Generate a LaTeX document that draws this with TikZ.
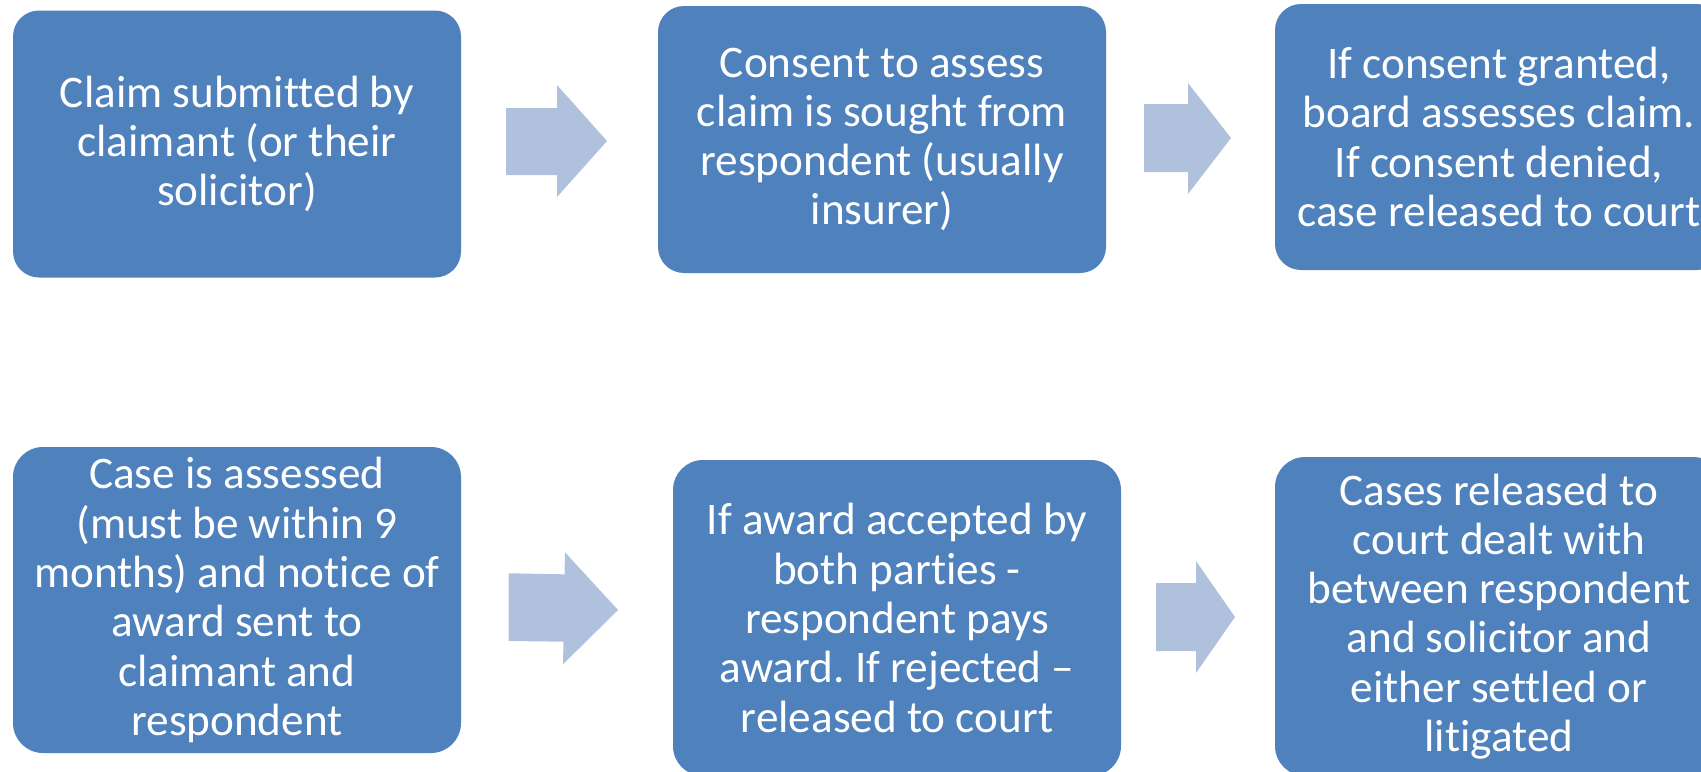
\documentclass[tikz,border=0pt]{standalone}
\usepackage{fontspec}
\setmainfont{Carlito}[Ligatures={NoCommon}]
\frenchspacing
\definecolor{boxblue}{RGB}{79,129,189}
\definecolor{arrowblue}{RGB}{176,193,222}
\tikzset{
  stepbox/.style={fill=boxblue, draw=none, text=white, align=center,
    inner sep=0pt, font=\fontsize{22.6pt}{24.65pt}\selectfont},
  rowone/.style={stepbox, minimum width=224pt, minimum height=133.5pt, rounded corners=13pt},
  rowtwo/.style={stepbox, minimum width=224pt, rounded corners=15pt},
  blockarrow/.style={fill=arrowblue, draw=none}
}
\begin{document}
\begin{tikzpicture}[x=0.5pt, y=-0.5pt]
\useasboundingbox (0,0) rectangle (1701,771);
\clip (0,0) rectangle (1701,771);
% top row
\node[rowone] (b1) at (237,144) {Claim submitted by\\claimant (or their\\solicitor)};
\node[rowone] (b2) at (882,139.5) {Consent to assess\\claim is sought from\\respondent (usually\\insurer)};
\node[rowone, minimum height=133pt] (b3) at (1499,137) {If consent granted,\\board assesses claim.\\If consent denied,\\case released to court};
% bottom row
\node[rowtwo, minimum height=153pt] (b4) at (237,600) {Case is assessed\\(must be within 9\\months) and notice of\\award sent to\\claimant and\\respondent};
\node[rowtwo, minimum height=158pt] (b5) at (897,618) {If award accepted by\\both parties -\\respondent pays\\award. If rejected –\\released to court};
\node[rowtwo, minimum height=159.5pt] (b6) at (1499,616.5) {Cases released to\\court dealt with\\between respondent\\and solicitor and\\either settled or\\litigated};
% block arrows
\fill[blockarrow] (506,108) -- (557,108) -- (557,85) -- (607,141) -- (557,197) -- (557,175) -- (506,175) -- cycle;
\fill[blockarrow] (1144,104) -- (1188,104) -- (1188,83) -- (1231,138) -- (1188,194) -- (1188,172) -- (1144,172) -- cycle;
\fill[blockarrow] (508.5,573.3) -- (564.5,574.3) -- (565,552.3) -- (618,610) -- (563,664.3) -- (563.5,641.7) -- (508.5,641) -- cycle;
\fill[blockarrow] (1156,583) -- (1196,583) -- (1196,561) -- (1235,617) -- (1196,673) -- (1196,651) -- (1156,651) -- cycle;
\end{tikzpicture}
\end{document}
